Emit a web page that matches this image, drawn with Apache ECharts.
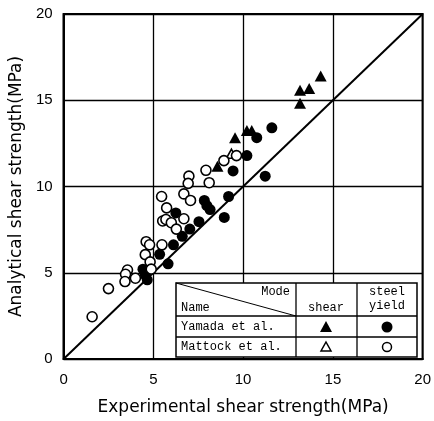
<!DOCTYPE html>
<html><head><meta charset="utf-8">
<script src="https://cdn.jsdelivr.net/npm/echarts@6/dist/echarts.min.js"></script>
<style>html,body{margin:0;padding:0;background:#fff}#c{width:434px;height:421px}</style>
</head><body><div id="c"></div>
<script>
// Yamada et al. - shear mode (filled triangles)
const yamadaShearX = [14.32, 13.17, 13.68, 13.17, 9.55, 10.21, 10.48, 8.57];
const yamadaShearY = [16.4, 15.58, 15.68, 14.82, 12.83, 13.25, 13.25, 11.17];
// Yamada et al. - steel yield (filled circles)
const yamadaYieldX = [11.6, 10.76, 10.21, 9.44, 11.23, 9.19, 7.84, 7.98, 8.16, 8.95, 7.54, 7.03, 6.61, 6.25, 6.12, 5.35, 5.82, 4.42, 4.55, 4.66];
const yamadaYieldY = [13.4, 12.83, 11.79, 10.9, 10.6, 9.42, 9.19, 8.89, 8.66, 8.21, 7.96, 7.53, 7.11, 8.47, 6.62, 6.07, 5.52, 5.21, 4.87, 4.59];
// Mattock et al. - shear mode (open triangles)
const mattockShearX = [9.35];
const mattockShearY = [11.9];
// Mattock et al. - steel yield (open circles)
const mattockYieldX = [1.59, 2.5, 3.56, 3.45, 3.42, 4.0, 4.6, 4.79, 4.55, 4.82, 4.88, 5.48, 5.46, 5.74, 5.52, 5.7, 6.0, 6.28, 6.7, 6.7, 6.98, 6.94, 7.07, 7.93, 8.11, 8.93, 9.63];
const mattockYieldY = [2.45, 4.08, 5.16, 4.91, 4.49, 4.68, 6.8, 6.62, 6.05, 5.63, 5.21, 6.62, 9.42, 8.76, 8.0, 8.09, 7.9, 7.53, 8.13, 9.57, 10.6, 10.18, 9.19, 10.94, 10.22, 11.5, 11.79];
// reference line y = x
const diagX = [0, 20];
const diagY = [0, 20];
const xTicks = [0, 5, 10, 15, 20];
const yTicks = [0, 5, 10, 15, 20];
const xTitle = 'Experimental shear strength(MPa)';
const yTitle = 'Analytical shear strength(MPa)';

const zip = (a, b) => a.map((v, i) => [v, b[i]]);
const chart = echarts.init(document.getElementById('c'), null, {renderer: 'canvas'});

const L = 176, R = 417, T = 283, B = 357, C1 = 296, C2 = 357, R1 = 316, R2 = 337;
const ln = (x1, y1, x2, y2, w) => ({type: 'line', shape: {x1, y1, x2, y2}, style: {stroke: '#000', lineWidth: w || 1.3}, z: 101});
const tx = (x, y, t, align) => ({type: 'text', x, y, style: {text: t, fill: '#000', font: '12px "Liberation Mono", "DejaVu Sans Mono", monospace', align: align || 'left', verticalAlign: 'middle'}, z: 102});

chart.setOption({
  animation: false,
  backgroundColor: '#fff',
  grid: {left: 61, right: 8, top: 14, bottom: 56, show: true, borderColor: '#000', borderWidth: 2},
  xAxis: {
    type: 'value', min: 0, max: 20, interval: 5,
    name: xTitle, nameLocation: 'middle', nameGap: 40,
    nameTextStyle: {fontFamily: 'DejaVu Sans', fontSize: 17, color: '#000'},
    axisLine: {lineStyle: {color: '#000', width: 2}},
    axisTick: {show: false},
    axisLabel: {color: '#000', fontFamily: 'Liberation Sans', fontSize: 15, margin: 13, formatter: v => xTicks.includes(v) ? String(v) : ''},
    splitLine: {show: true, lineStyle: {color: '#000', width: 1.3}}
  },
  yAxis: {
    type: 'value', min: 0, max: 20, interval: 5,
    name: yTitle, nameLocation: 'middle', nameGap: 37,
    nameTextStyle: {fontFamily: 'DejaVu Sans', fontSize: 17, color: '#000'},
    axisLine: {lineStyle: {color: '#000', width: 2}},
    axisTick: {show: false},
    axisLabel: {color: '#000', fontFamily: 'Liberation Sans', fontSize: 15, margin: 11, formatter: v => yTicks.includes(v) ? String(v) : ''},
    splitLine: {show: true, lineStyle: {color: '#000', width: 1.3}}
  },
  series: [
    {type: 'line', data: zip(diagX, diagY), symbol: 'none', lineStyle: {color: '#000', width: 2}, z: 1},
    {type: 'scatter', data: zip(yamadaShearX, yamadaShearY), symbol: 'triangle', symbolSize: [12, 11], itemStyle: {color: '#000', opacity: 1}, z: 3},
    {type: 'scatter', data: zip(yamadaYieldX, yamadaYieldY), symbol: 'circle', symbolSize: 11, itemStyle: {color: '#000', opacity: 1}, z: 3},
    {type: 'scatter', data: zip(mattockShearX, mattockShearY), symbol: 'triangle', symbolSize: [10, 9], itemStyle: {color: '#fff', borderColor: '#000', borderWidth: 1.6, opacity: 1}, z: 4},
    {type: 'scatter', data: zip(mattockYieldX, mattockYieldY), symbol: 'circle', symbolSize: 10, itemStyle: {color: '#fff', borderColor: '#000', borderWidth: 1.6, opacity: 1}, z: 4}
  ],
  graphic: [
    {type: 'rect', shape: {x: L, y: T, width: R - L, height: B - T}, style: {fill: '#fff', stroke: '#000', lineWidth: 1.5}, z: 100},
    ln(C1, T, C1, B), ln(C2, T, C2, B), ln(L, R1, R, R1), ln(L, R2, R, R2),
    ln(L, T, C1, R1, 1),
    tx(290, 292, 'Mode', 'right'),
    tx(181, 308, 'Name'),
    tx(326, 308, 'shear', 'center'),
    tx(387, 292, 'steel', 'center'),
    tx(387, 306, 'yield', 'center'),
    tx(181, 327, 'Yamada et al.'),
    tx(181, 347, 'Mattock et al.'),
    {type: 'polygon', shape: {points: [[326, 321], [332, 332], [320, 332]]}, style: {fill: '#000'}, z: 102},
    {type: 'circle', shape: {cx: 387, cy: 327, r: 5.5}, style: {fill: '#000'}, z: 102},
    {type: 'polygon', shape: {points: [[326, 342], [331, 351], [321, 351]]}, style: {fill: '#fff', stroke: '#000', lineWidth: 1.5}, z: 102},
    {type: 'circle', shape: {cx: 387, cy: 347, r: 4.5}, style: {fill: '#fff', stroke: '#000', lineWidth: 1.5}, z: 102}
  ]
});
</script></body></html>
